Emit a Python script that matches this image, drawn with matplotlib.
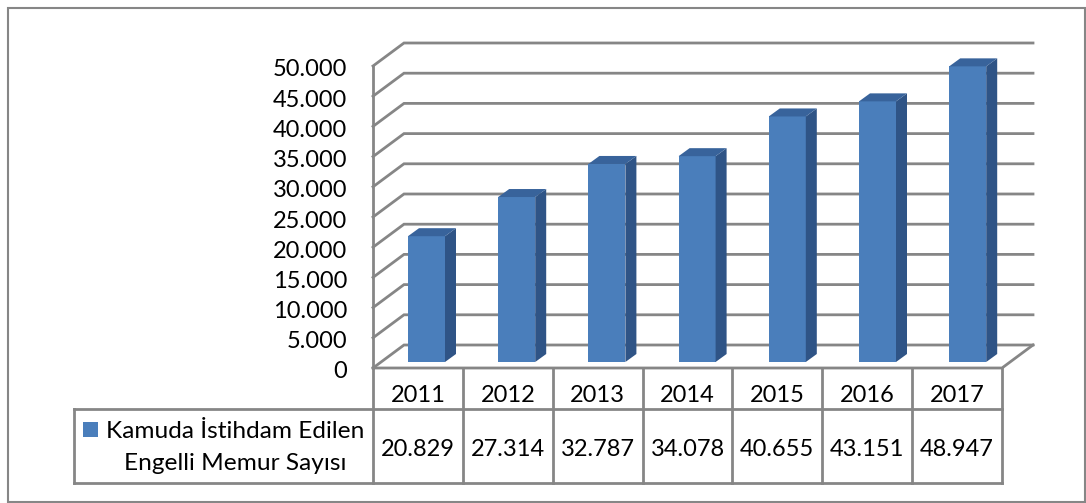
import numpy as np
import matplotlib
matplotlib.use('Agg')
import matplotlib.pyplot as plt
from matplotlib.patches import Polygon, Rectangle
from matplotlib.lines import Line2D

plt.rcParams['font.family'] = ['Lato', 'DejaVu Sans']

years = ['2011', '2012', '2013', '2014', '2015', '2016', '2017']
values = [20829, 27314, 32787, 34078, 40655, 43151, 48947]
value_labels = ['20.829', '27.314', '32.787', '34.078', '40.655', '43.151', '48.947']
y_ticks = [0, 5000, 10000, 15000, 20000, 25000, 30000, 35000, 40000, 45000, 50000]
y_labels = ['0', '5.000', '10.000', '15.000', '20.000', '25.000', '30.000', '35.000',
            '40.000', '45.000', '50.000']
series_name = ['Kamuda İstihdam Edilen', 'Engelli Memur Sayısı']

W, H = 1086, 503
GRID = '#868686'
FRONT = '#4a7ebb'
SIDE = '#2f5486'
TOP = '#38639b'

fig = plt.figure(figsize=(W / 100, H / 100), dpi=100)

# pixel positions of the front plane
left, right, bottom, top = 373, 1002, 368, 66
ax = fig.add_axes([left / W, 1 - bottom / H, (right - left) / W, (bottom - top) / H])
ax.set_xlim(0, 7)
ax.set_ylim(0, 50000)
ax.axis('off')

px_x = 7 / (right - left)
px_y = 50000 / (bottom - top)

# depth of the fake 3d box
dx, dy = 31 * px_x, 23 * px_y

for v, lab in zip(y_ticks, y_labels):
    ax.plot([0, dx, 7 + dx], [v, v + dy, v + dy], color=GRID, lw=2, clip_on=False,
            solid_joinstyle='miter', zorder=1)
    # labels sit further left and a bit lower than the tick
    ax.text(-26 * px_x, v - 4 * px_y, lab, ha='right', va='center', fontsize=17,
            color='black', clip_on=False)
ax.plot([0, 0], [0, 50000], color=GRID, lw=2, clip_on=False, zorder=1)
ax.plot([0, 7, 7 + dx], [0, 0, dy], color=GRID, lw=2, clip_on=False, zorder=1)

# bars
bar_w = 37 * px_x
bar_off_x = 35 * px_x
bar_off_y = 6 * px_y
bar_step = 90.2 * px_x
side_x, side_y = 11 * px_x, 8 * px_y
for i, v in enumerate(values):
    x0 = i * bar_step + bar_off_x
    x1 = x0 + bar_w
    y0 = bar_off_y
    y1 = y0 + v
    ax.bar(x0, v, width=bar_w, bottom=y0, align='edge', color=FRONT, edgecolor='none',
           zorder=3, clip_on=False)
    ax.add_patch(Polygon([[x1, y0], [x1 + side_x, y0 + side_y], [x1 + side_x, y1 + side_y], [x1, y1]],
                         closed=True, facecolor=SIDE, edgecolor='none', zorder=3, clip_on=False))
    ax.add_patch(Polygon([[x0, y1], [x1, y1], [x1 + side_x, y1 + side_y], [x0 + side_x, y1 + side_y]],
                         closed=True, facecolor=TOP, edgecolor='none', zorder=3, clip_on=False))


def line(x0, y0, x1, y1, lw=2):
    fig.add_artist(Line2D([x0 / W, x1 / W], [1 - y0 / H, 1 - y1 / H], color=GRID, lw=lw))


# data table under the chart
col = (right - left) / 7
tab_mid, tab_bot, tab_left = 409, 483, 74
line(tab_left, tab_mid, right, tab_mid)
line(tab_left, tab_bot, right, tab_bot)
line(tab_left, tab_mid, tab_left, tab_bot)
for i in range(8):
    line(left + i * col, bottom, left + i * col, tab_bot)
for i in range(7):
    cx = (left + (i + 0.5) * col) / W
    fig.text(cx, 1 - 396 / H, years[i], ha='center', va='center', fontsize=17)
    fig.text(cx, 1 - 449 / H, value_labels[i], ha='center', va='center', fontsize=17)

fig.add_artist(Rectangle((83 / W, 1 - 437 / H), 15 / W, 15 / H, facecolor=FRONT, edgecolor='none',
                         transform=fig.transFigure))
fig.text(235 / W, 1 - 431 / H, series_name[0], ha='center', va='center', fontsize=17.6)
fig.text(235 / W, 1 - 463 / H, series_name[1], ha='center', va='center', fontsize=17.6)

# outer chart border
fig.add_artist(Rectangle((8 / W, 1 - 501.5 / H), 1077 / W, 494 / H, fill=False, edgecolor=GRID, lw=1.5,
                         transform=fig.transFigure))

fig.savefig('out.png', dpi=100)
